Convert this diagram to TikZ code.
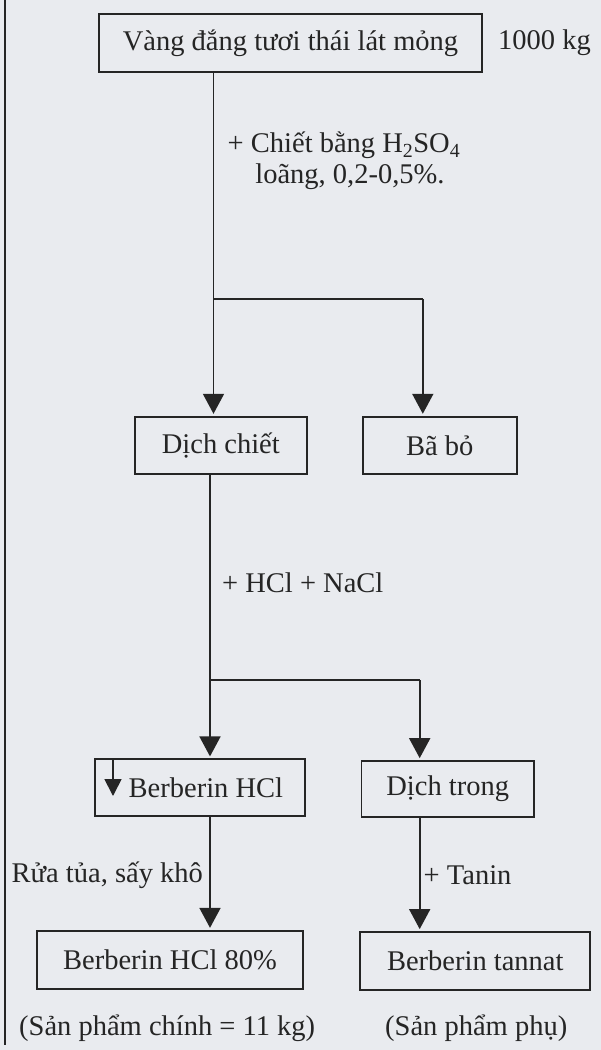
\documentclass[tikz,border=0pt]{standalone}
\usepackage{fontspec}
\setmainfont{Liberation Serif}
\usetikzlibrary{arrows.meta}
\definecolor{bg}{HTML}{E9EBEF}
\definecolor{ink}{HTML}{252525}
\begin{document}
\begin{tikzpicture}[x=1pt,y=-1pt,
  box/.style={draw=ink, line width=1.8pt, inner sep=0pt, text=ink,
    font=\fontsize{28.5}{30}\selectfont},
  lbl/.style={inner sep=0pt, anchor=west, text=ink,
    font=\fontsize{28.5}{30}\selectfont},
  conn/.style={draw=ink, line width=1.8pt},
  arr/.style={conn, -{Triangle[length=20pt,width=21pt]}, shorten >=2pt}
]
\fill[bg] (0,0) rectangle (601,1050);
\useasboundingbox (0,0) rectangle (601,1050);
% scan edge line
\draw[ink, line width=2pt] (4.6,0) -- (4.6,1045);

% boxes
\node[box, minimum width=383.3pt, minimum height=57.7pt] (top) at (290.5,42.9) {Vàng đắng tươi thái lát mỏng};
\node[lbl] (kg) at (498,43) {1000 kg};
\node[box, minimum width=171.6pt, minimum height=57.6pt] (dc) at (220.8,445.5) {Dịch chiết};
\node[box, minimum width=154.1pt, minimum height=57.6pt] (bb) at (439.7,445.5) {Bã bỏ};
\node[box, minimum width=209.7pt, minimum height=56.4pt] (bh) at (199.9,787.5) {\hspace*{12pt}Berberin HCl};
\node[box, minimum width=172.6pt, minimum height=55.7pt] (dt) at (447.7,788.9) {Dịch trong};
\node[box, minimum width=265.6pt, minimum height=58.3pt] (b80) at (170,959.9) {Berberin HCl 80\%};
\node[box, minimum width=230pt, minimum height=58pt] (bt) at (475.3,961) {Berberin tannat};

% labels
\node[lbl, anchor=center, align=center, font=\fontsize{28.5}{31.5}\selectfont] (l1) at (344,161)
  {+ Chiết bằng H\textsubscript{2}SO\textsubscript{4}\\\hspace*{12pt}loãng, 0,2-0,5\%.};
\node[lbl] (l3) at (222,583) {+ HCl + NaCl};
\node[lbl] (l4) at (11.5,875) {Rửa tủa, sấy khô};
\node[lbl] (l5) at (423.5,875) {+ Tanin};
\node[lbl] (l6) at (19,1028) {(Sản phẩm chính = 11 kg)};
\node[lbl] (l7) at (385,1028) {(Sản phẩm phụ)};

% junction coordinates
\coordinate (j1) at (213.5,299);
\coordinate (j1r) at (422.8,299);
\coordinate (j2) at (210,680);
\coordinate (j2r) at (419.7,680);
\coordinate (sa) at (113,759.3);
\coordinate (sb) at (113,796);

% connectors
\draw[conn] (top.south -| j1) -- (j1) -- (j1r);
\draw[arr] (j1) -- (j1 |- dc.north);
\draw[arr] (j1r) -- (j1r |- bb.north);
\draw[conn] (dc.south -| j2) -- (j2) -- (j2r);
\draw[arr] (j2) -- (j2 |- bh.north);
\draw[arr] (j2r) -- (j2r |- dt.north);
\draw[conn, -{Triangle[length=17pt,width=17pt]}] (sa) -- (sb);
\draw[arr] (bh.south -| j2) -- (j2 |- b80.north);
\draw[arr] (dt.south -| j2r) -- (j2r |- bt.north);
\end{tikzpicture}
\end{document}
